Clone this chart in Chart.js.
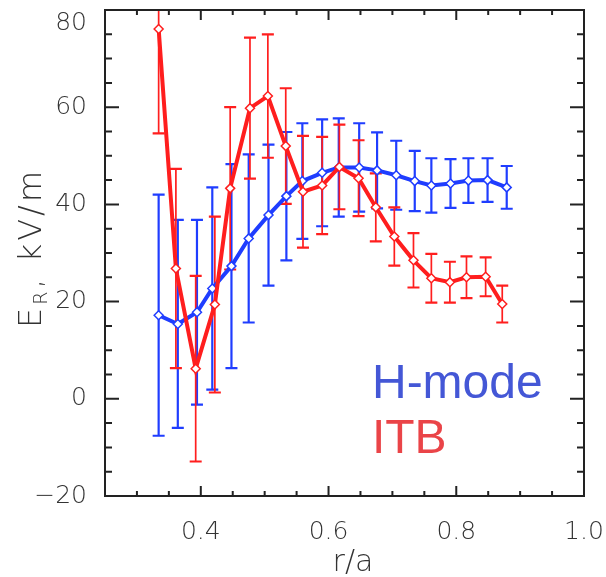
<!DOCTYPE html>
<html><head><meta charset="utf-8">
<script src="https://cdn.jsdelivr.net/npm/chart.js@4.4.1/dist/chart.umd.min.js"></script>
<style>html,body{margin:0;padding:0;background:#fff;}</style>
</head><body>
<canvas id="c" width="606" height="577"></canvas>
<script>
// ---- data ----
const hmodeR   = [0.334,0.364,0.394,0.418,0.448,0.475,0.506,0.534,0.559,0.590,0.616,0.648,0.676,0.706,0.735,0.761,0.791,0.819,0.849,0.879];
const hmodeE   = [17.2,15.4,17.8,22.7,27.3,33.0,37.8,41.7,44.8,46.5,47.6,47.6,47.0,46.0,44.8,43.9,44.3,44.9,45.0,43.5];
const hmodeErr = [24.8,21.4,19.0,20.8,21.0,17.3,14.5,13.2,11.9,11.0,10.1,9.1,7.8,7.1,6.2,5.6,5.0,4.6,4.5,4.4];
const itbR     = [0.334,0.361,0.392,0.422,0.446,0.477,0.505,0.533,0.560,0.590,0.617,0.647,0.674,0.703,0.733,0.761,0.790,0.816,0.846,0.872];
const itbE     = [76.1,26.8,6.2,19.4,43.3,59.8,62.3,52.0,42.6,43.9,47.7,45.4,39.4,33.4,28.5,24.8,24.0,25.0,25.1,19.5];
const itbErr   = [21.5,20.5,19.1,18.1,16.7,14.5,12.7,11.9,11.5,10.0,8.7,7.8,7.0,6.0,5.6,5.0,4.2,4.3,4.0,3.8];
const xTickLabels = [0.4,0.6,0.8,1.0];
const yTickLabels = [-20,0,20,40,60,80];
const seriesNames = ['ITB','H-mode'];

const RED = '#ff1e1e', BLUE = '#1f3dff';
const AXIS = '#222';

function near(v, arr){ return arr.some(a => Math.abs(a - v) < 1e-6); }

const errorBars = {
  id:'errorBars',
  beforeDatasetsDraw(chart){
    const {ctx, chartArea:a, scales:{x,y}} = chart;
    ctx.save();
    ctx.beginPath(); ctx.rect(a.left, a.top, a.right-a.left, a.bottom-a.top); ctx.clip();
    const sets = [[hmodeR,hmodeE,hmodeErr,BLUE,2.2],[itbR,itbE,itbErr,RED,1.7]];
    for (const [rs,es,errs,col,lw] of sets){
      ctx.strokeStyle = col;
      for (let i=0;i<rs.length;i++){
        const px = x.getPixelForValue(rs[i]);
        const p1 = y.getPixelForValue(es[i]+errs[i]);
        const p2 = y.getPixelForValue(es[i]-errs[i]);
        ctx.lineWidth = lw;
        ctx.beginPath(); ctx.moveTo(px,p1); ctx.lineTo(px,p2); ctx.stroke();
        ctx.lineWidth = 2.2;
        ctx.beginPath();
        ctx.moveTo(px-6,p1); ctx.lineTo(px+6,p1);
        ctx.moveTo(px-6,p2); ctx.lineTo(px+6,p2);
        ctx.stroke();
      }
    }
    ctx.restore();
  },
  afterDraw(chart){
    const {ctx, chartArea:a, scales:{x,y}} = chart;
    ctx.save();
    // frame
    ctx.strokeStyle = AXIS; ctx.lineWidth = 2;
    ctx.strokeRect(a.left, a.top, a.right-a.left, a.bottom-a.top);
    // inward ticks
    ctx.beginPath();
    for (const t of x.ticks){
      const px = x.getPixelForValue(t.value);
      const L = near(t.value, xTickLabels) ? 10 : 5;
      ctx.moveTo(px, a.bottom); ctx.lineTo(px, a.bottom-L);
      ctx.moveTo(px, a.top); ctx.lineTo(px, a.top+L);
    }
    for (const t of y.ticks){
      const py = y.getPixelForValue(t.value);
      const L = near(t.value, yTickLabels) ? 14 : 7;
      ctx.moveTo(a.left, py); ctx.lineTo(a.left+L, py);
      ctx.moveTo(a.right, py); ctx.lineTo(a.right-L, py);
    }
    ctx.stroke();
    // series labels
    ctx.font = '48px "Liberation Sans", Arial, sans-serif';
    ctx.textBaseline = 'alphabetic'; ctx.textAlign = 'left';
    ctx.fillStyle = '#4457d6';
    ctx.fillText(seriesNames[1], x.getPixelForValue(0.668), y.getPixelForValue(0.15));
    ctx.fillStyle = '#ea4448';
    ctx.fillText(seriesNames[0], x.getPixelForValue(0.668), y.getPixelForValue(-11.1));
    // x title
    ctx.fillStyle = '#333';
    ctx.font = '200 30px "DejaVu Sans"';
    ctx.textAlign = 'center';
    ctx.fillText('r/a', 353, 571);
    // y title with subscript
    ctx.translate(41, 248);
    ctx.rotate(-Math.PI/2);
    try { ctx.letterSpacing = '3px'; } catch(e) {}
    const f1 = '200 32px "DejaVu Sans"', f2 = '200 19px "DejaVu Sans"';
    ctx.font = f1; const wE = ctx.measureText('E').width;
    ctx.font = f2; const wR = ctx.measureText('R').width;
    ctx.font = f1; const wRest = ctx.measureText(', kV/m').width;
    let sx = -(wE+wR+wRest)/2;
    ctx.textAlign = 'left';
    ctx.font = f1; ctx.fillText('E', sx, 0); sx += wE;
    ctx.font = f2; ctx.fillText('R', sx, 6); sx += wR;
    ctx.font = f1; ctx.fillText(', kV/m', sx, 0);
    ctx.restore();
  }
};

const mk = (rs, es) => rs.map((r,i) => ({x:r, y:es[i]}));
const topY = yTickLabels[yTickLabels.length-1];

new Chart(document.getElementById('c'), {
  type:'line',
  data:{ datasets:[
    { label:seriesNames[0], data:mk(itbR,itbE), borderColor:RED, borderWidth:4, tension:0,
      pointStyle:'rectRot', pointRadius:4.5, pointBorderWidth:1.5, pointBorderColor:RED, pointBackgroundColor:'#fff' },
    { label:seriesNames[1], data:mk(hmodeR,hmodeE), borderColor:BLUE, borderWidth:4, tension:0,
      pointStyle:'rectRot', pointRadius:4.5, pointBorderWidth:1.5, pointBorderColor:BLUE, pointBackgroundColor:'#fff' }
  ]},
  options:{
    responsive:false, animation:false, devicePixelRatio:1,
    layout:{ padding:{ top:10, right:22, left:0, bottom:0 } },
    plugins:{ legend:{display:false}, tooltip:{enabled:false} },
    scales:{
      x:{ type:'linear', min:0.25, max:1.0,
          grid:{display:false}, border:{display:false},
          afterFit(s){ s.height = 81; s.paddingLeft = 0; s.paddingRight = 0; },
          ticks:{ stepSize:0.05, autoSkip:false, maxRotation:0, padding:13, color:'#333',
                  font:{family:'DejaVu Sans', size:25, weight:'200'},
                  callback:(v)=> near(v, xTickLabels) ? v.toFixed(1) : '' } },
      y:{ type:'linear', min:-20, max:80,
          grid:{display:false}, border:{display:false},
          afterFit(s){ s.width = 105; s.paddingTop = 0; s.paddingBottom = 0; },
          ticks:{ stepSize:5, autoSkip:false, padding:10, color:'#333',
                  font:{family:'DejaVu Sans', size:25, weight:'200', lineHeight:1.1},
                  callback:(v)=> {
                    if (!near(v, yTickLabels)) return '';
                    const s = v<0 ? '\u2212'+Math.abs(v) : String(v);
                    return Math.abs(v - topY) < 1e-6 ? ['', s] : s;
                  } } }
    }
  },
  plugins:[errorBars]
});
</script>
</body></html>
